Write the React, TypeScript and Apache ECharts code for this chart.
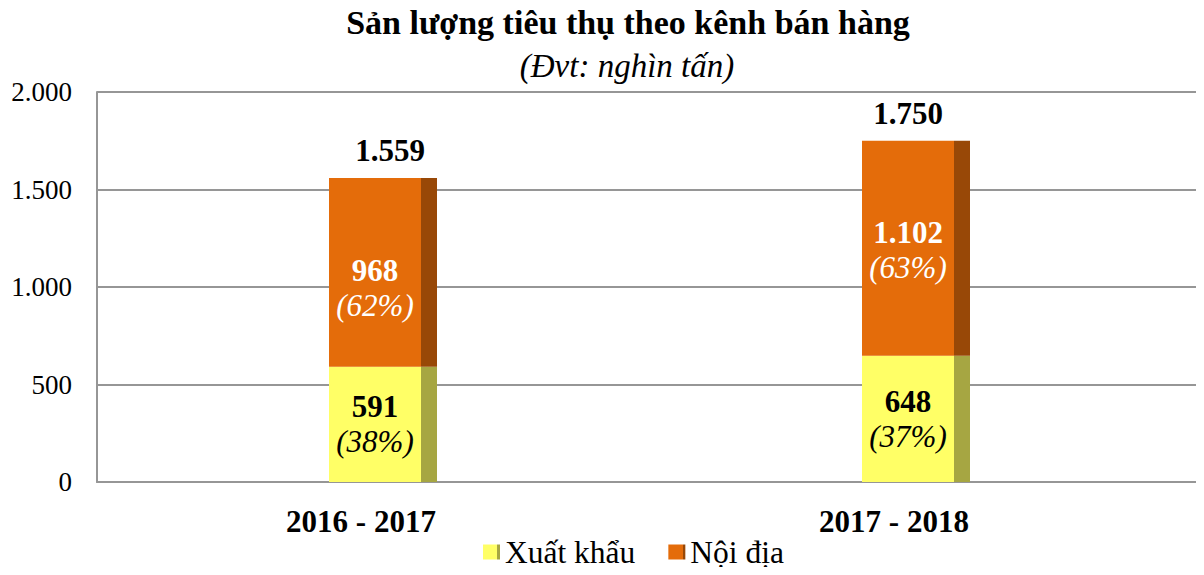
import React, { useEffect, useRef } from "react";
import * as echarts from "echarts";

const categories = ["2016 - 2017", "2017 - 2018"];
const xuatKhau = [591, 648];
const noiDia = [968, 1102];
const yTicks = [0, 500, 1000, 1500, 2000];
const seriesNames = ["Xuất khẩu", "Nội địa"];

const totals = categories.map((_, i) => xuatKhau[i] + noiDia[i]);
const fmt = (n: number) => String(n).replace(/\B(?=(\d{3})+(?!\d))/g, ".");
const pct = (v: number, i: number) => Math.round((v / totals[i]) * 100);

const FONT = "Liberation Serif, Times New Roman, serif";

const grad = (face: string, side: string) => ({
  type: "linear",
  x: 0,
  y: 0,
  x2: 1,
  y2: 0,
  colorStops: [
    { offset: 0, color: face },
    { offset: 0.852, color: face },
    { offset: 0.852, color: side },
    { offset: 1, color: side },
  ],
});

export default function App() {
  const ref = useRef<HTMLDivElement>(null);
  useEffect(() => {
    if (!ref.current) return;
    const chart = echarts.init(ref.current, null, { renderer: "svg" });
    const gridTop = 92;
    const gridBottom = 93;
    const orangeOffsets = [[-8, 16], [-8, 2]];
    const yellowOffsets = [[-8, 0], [-8, 0]];
    const totalOffsets = [[7, 0], [-8, 0]];
    chart.setOption({
      animation: false,
      textStyle: { fontFamily: FONT },
      title: [
        {
          text: "Sản lượng tiêu thụ theo kênh bán hàng",
          left: 623,
          top: 0,
          textAlign: "center",
          textStyle: { fontFamily: FONT, fontWeight: "bold", fontSize: 34, color: "#000" },
        },
        {
          text: "(Đvt: nghìn tấn)",
          left: 622,
          top: 44,
          textAlign: "center",
          textStyle: { fontFamily: FONT, fontStyle: "italic", fontWeight: "normal", fontSize: 33, color: "#000" },
        },
      ],
      legend: {
        data: seriesNames,
        top: 536,
        left: 483,
        padding: 0,
        itemWidth: 17,
        itemHeight: 15,
        itemGap: 33,
        icon: "rect",
        textStyle: { fontFamily: FONT, fontSize: 31.5, fontWeight: "normal", color: "#000" },
      },
      grid: [
        { left: 97, right: 2, top: gridTop, bottom: gridBottom },
        { left: 116.5, right: 21.5, top: gridTop, bottom: gridBottom },
      ],
      xAxis: [
        {
          type: "value",
          gridIndex: 0,
          min: 0,
          max: 1,
          axisLine: { show: true, lineStyle: { color: "#969696", width: 2 } },
          axisTick: { show: false },
          axisLabel: { show: false },
          splitLine: { show: false },
        },
        {
          type: "category",
          gridIndex: 1,
          data: categories,
          axisLine: { show: false },
          axisTick: { show: false },
          axisLabel: {
            fontFamily: FONT,
            fontSize: 31,
            fontWeight: "bold",
            color: "#000",
            margin: 24,
            padding: [0, 44, 0, 0],
          },
        },
      ],
      yAxis: [
        {
          type: "value",
          gridIndex: 0,
          min: yTicks[0],
          max: yTicks[yTicks.length - 1],
          interval: yTicks[1] - yTicks[0],
          axisLine: { show: true, lineStyle: { color: "#969696", width: 2 } },
          axisTick: { show: false },
          axisLabel: {
            fontFamily: FONT,
            fontSize: 27,
            fontWeight: "normal",
            color: "#000",
            margin: 25,
            formatter: (v: number) => fmt(v),
          },
          splitLine: { show: true, lineStyle: { color: "#969696", width: 2 } },
        },
        {
          type: "value",
          gridIndex: 1,
          min: yTicks[0],
          max: yTicks[yTicks.length - 1],
          interval: yTicks[1] - yTicks[0],
          show: false,
          splitLine: { show: false },
        },
      ],
      series: [
        {
          name: seriesNames[0],
          type: "bar",
          stack: "total",
          xAxisIndex: 1,
          yAxisIndex: 1,
          barWidth: 108,
          itemStyle: { color: grad("#FFFF66", "#A6A642") },
          data: xuatKhau.map((v, i) => ({
            value: v,
            label: { offset: yellowOffsets[i] },
          })),
          label: {
            show: true,
            position: "inside",
            formatter: (p: any) => `{v|${fmt(p.value)}}\n{p|(${pct(p.value, p.dataIndex)}%)}`,
            rich: {
              v: { fontFamily: FONT, fontSize: 31, fontWeight: "bold", color: "#000", lineHeight: 35 },
              p: { fontFamily: FONT, fontSize: 31, fontStyle: "italic", fontWeight: "normal", color: "#000", lineHeight: 35 },
            },
          },
        },
        {
          name: seriesNames[1],
          type: "bar",
          stack: "total",
          xAxisIndex: 1,
          yAxisIndex: 1,
          barWidth: 108,
          itemStyle: { color: grad("#E46C0A", "#984807") },
          data: noiDia.map((v, i) => ({
            value: v,
            label: { offset: orangeOffsets[i] },
          })),
          label: {
            show: true,
            position: "inside",
            formatter: (p: any) => `{v|${fmt(p.value)}}\n{p|(${pct(p.value, p.dataIndex)}%)}`,
            rich: {
              v: { fontFamily: FONT, fontSize: 31, fontWeight: "bold", color: "#fff", lineHeight: 35 },
              p: { fontFamily: FONT, fontSize: 31, fontStyle: "italic", fontWeight: "normal", color: "#fff", lineHeight: 35 },
            },
          },
        },
        {
          name: "total",
          type: "scatter",
          xAxisIndex: 1,
          yAxisIndex: 1,
          symbolSize: 0,
          silent: true,
          itemStyle: { color: "#000", opacity: 1 },
          data: totals.map((v, i) => ({ value: v, label: { offset: totalOffsets[i] } })),
          label: {
            show: true,
            position: "top",
            distance: 12,
            formatter: (p: any) => fmt(p.value),
            fontFamily: FONT,
            fontSize: 31,
            fontWeight: "bold",
            color: "#000000",
            opacity: 1,
          },
        },
      ],
    });
    return () => chart.dispose();
  }, []);
  return <div ref={ref} style={{ width: 1204, height: 575, margin: -8 }} />;
}
